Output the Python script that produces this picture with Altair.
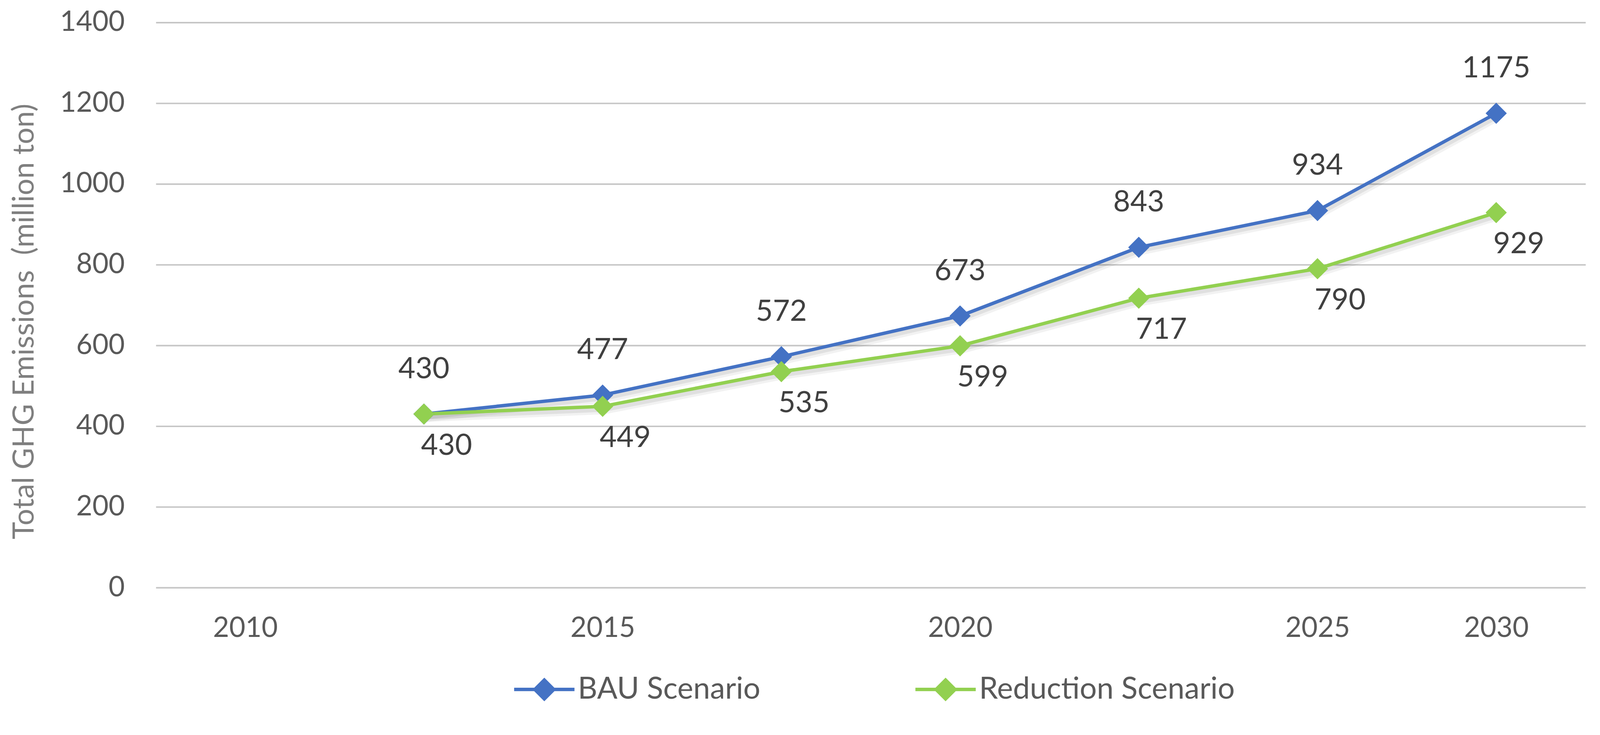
import json
import altair as alt
import pandas as pd

# ---- data ----
tick_labels = ["2010", "", "2015", "", "2020", "", "2025", "2030"]
point_index = [1, 2, 3, 4, 5, 6, 7]
bau_values = [430, 477, 572, 673, 843, 934, 1175]
reduction_values = [430, 449, 535, 599, 717, 790, 929]
series_names = ["BAU Scenario", "Reduction Scenario"]
series_colors = ["#4472C4", "#92D050"]
y_ticks = [0, 200, 400, 600, 800, 1000, 1200, 1400]

rows = []
for i, v in zip(point_index, bau_values):
    rows.append({"idx": i, "value": v, "series": series_names[0]})
for i, v in zip(point_index, reduction_values):
    rows.append({"idx": i, "value": v, "series": series_names[1]})
df = pd.DataFrame(rows)

FONT = "Lato"
TICK_FS = 74
label_expr = json.dumps(tick_labels) + "[datum.value]"

x_enc = alt.X(
    "idx:O",
    scale=alt.Scale(type="point", domain=list(range(len(tick_labels))), padding=0.5),
    axis=alt.Axis(
        labelExpr=label_expr, labelAngle=0, ticks=False, domain=False, grid=False,
        title=None, labelPadding=72, labelFontSize=TICK_FS, labelColor="#595959",
        labelFont=FONT, labelLimit=0,
    ),
)
y_enc = alt.Y(
    "value:Q",
    scale=alt.Scale(domain=[0, 1400], nice=False, zero=True),
    axis=alt.Axis(
        values=y_ticks, format="d", grid=True, gridColor="#C6C6C6", gridWidth=4,
        ticks=False, domain=False, labelLimit=0,
        labelPadding=83, labelFontSize=TICK_FS, labelColor="#595959", labelFont=FONT,
        title="Total GHG Emissions \u00a0(million ton)", titleFont=FONT, titleFontSize=78,
        titleFontWeight="normal", titleColor="#7F7F7F", titleX=-348, titleY=792,
        titleAngle=270, titleAlign="center", titleBaseline="middle", titleLimit=0,
    ),
)

color_scale = alt.Scale(domain=series_names, range=series_colors)
legend_symbol = "M-3.2,0L3.2,0M0,-1L1,0L0,1L-1,0Z"
legend_def = alt.Legend(
    title=None, orient="none", legendX=990, legendY=1728, direction="horizontal",
    symbolType=legend_symbol, symbolSize=2500, symbolStrokeWidth=9, symbolOpacity=1,
    labelFontSize=80, labelColor="#595959", labelFont=FONT, labelOffset=49, labelLimit=0,
    columnPadding=392, padding=0,
)

base = alt.Chart(df)

shadow_wide = base.mark_line(strokeWidth=24, color="#000000", opacity=0.05, xOffset=3, yOffset=9).encode(
    x=x_enc, y=y_enc, detail="series:N"
)
shadow_narrow = base.mark_line(strokeWidth=13, color="#000000", opacity=0.07, xOffset=3, yOffset=8).encode(
    x=x_enc, y=y_enc, detail="series:N"
)
lines = base.mark_line(strokeWidth=9).encode(
    x=x_enc, y=y_enc,
    stroke=alt.Stroke("series:N", scale=color_scale, legend=legend_def),
)
points = base.mark_point(shape="diamond", filled=True, size=2700, strokeWidth=3, opacity=1).encode(
    x=x_enc, y=y_enc,
    fill=alt.Fill("series:N", scale=color_scale, legend=legend_def),
    stroke=alt.Stroke("series:N", scale=color_scale, legend=legend_def),
)
bau_labels = base.transform_filter(alt.datum.series == series_names[0]).mark_text(
    fontSize=78, font=FONT, color="#404040", dy=-118, baseline="middle"
).encode(x=x_enc, y=y_enc, text="value:Q")
red_labels = base.transform_filter(alt.datum.series == series_names[1]).mark_text(
    fontSize=78, font=FONT, color="#404040", dy=85, dx=60, baseline="middle"
).encode(x=x_enc, y=y_enc, text="value:Q")

chart = (
    alt.layer(shadow_wide, shadow_narrow, lines, points, bau_labels, red_labels)
    .properties(
        width=3791, height=1498,
        autosize=alt.AutoSizeParams(type="none"),
        padding={"left": 405, "top": 18, "right": 30, "bottom": 346},
        background="white",
    )
    .configure_view(stroke=None)
)

chart.save("out.html", embed_options={"renderer": "svg", "actions": False})
